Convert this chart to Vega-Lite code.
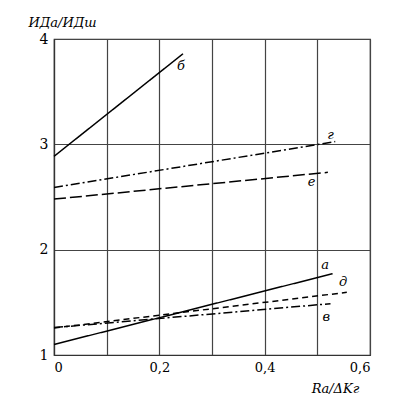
{
  "$schema": "https://vega.github.io/schema/vega-lite/v6.json",
  "width": 316,
  "height": 316,
  "autosize": "none",
  "padding": {"left": 54, "top": 39, "right": 36, "bottom": 41},
  "background": "white",
  "config": {
    "view": {"stroke": "#333", "strokeWidth": 1.2},
    "font": "DejaVu Serif"
  },
  "datasets": {
    "lines": [
      {"series": "а", "x": 0, "y": 1.10},
      {"series": "а", "x": 0.529, "y": 1.772},
      {"series": "б", "x": 0, "y": 2.886},
      {"series": "б", "x": 0.245, "y": 3.86},
      {"series": "в", "x": 0, "y": 1.26},
      {"series": "в", "x": 0.525, "y": 1.487},
      {"series": "г", "x": 0, "y": 2.59},
      {"series": "г", "x": 0.534, "y": 3.026},
      {"series": "д", "x": 0, "y": 1.256},
      {"series": "д", "x": 0.556, "y": 1.595},
      {"series": "е", "x": 0, "y": 2.48},
      {"series": "е", "x": 0.52, "y": 2.734}
    ],
    "labels": [
      {"label": "а", "x": 0.515, "y": 1.85},
      {"label": "б", "x": 0.241, "y": 3.74},
      {"label": "в", "x": 0.517, "y": 1.36},
      {"label": "г", "x": 0.525, "y": 3.09},
      {"label": "д", "x": 0.549, "y": 1.69},
      {"label": "е", "x": 0.489, "y": 2.64}
    ]
  },
  "layer": [
    {
      "data": {"name": "lines"},
      "mark": {"type": "line", "color": "black", "strokeWidth": 1.5},
      "encoding": {
        "x": {
          "field": "x", "type": "quantitative",
          "scale": {"domain": [0, 0.6], "nice": false, "zero": false},
          "axis": {
            "values": [0, 0.1, 0.2, 0.3, 0.4, 0.5, 0.6],
            "labelExpr": "round(datum.value*10) % 2 == 1 ? '' : (datum.value == 0 ? '0' : replace(format(datum.value, '.1f'), '.', ','))",
            "grid": true, "gridColor": "#444", "gridOpacity": 1, "gridWidth": 1.2,
            "domainColor": "#333", "domainWidth": 1.2,
            "ticks": false, "labelPadding": 6,
            "labelFont": "DejaVu Serif", "labelFontSize": 13, "labelColor": "black",
            "title": "Rа/ΔKг", "titleFont": "DejaVu Serif", "titleFontStyle": "italic",
            "titleFontWeight": "normal", "titleFontSize": 13, "titleColor": "black",
            "titleX": 281, "titleY": 33, "titleAlign": "center", "titleBaseline": "middle"
          }
        },
        "y": {
          "field": "y", "type": "quantitative",
          "scale": {"domain": [1, 4], "nice": false, "zero": false},
          "axis": {
            "values": [1, 2, 3, 4],
            "format": "d",
            "grid": true, "gridColor": "#444", "gridOpacity": 1, "gridWidth": 1.2,
            "domainColor": "#333", "domainWidth": 1.2,
            "ticks": false, "labelPadding": 6,
            "labelFont": "DejaVu Serif", "labelFontSize": 14, "labelColor": "black",
            "title": "ИДа/ИДш", "titleFont": "DejaVu Serif", "titleFontStyle": "italic",
            "titleFontWeight": "normal", "titleFontSize": 13, "titleColor": "black",
            "titleAngle": 0, "titleX": 8, "titleY": -17, "titleAlign": "center", "titleBaseline": "middle"
          }
        },
        "detail": {"field": "series"},
        "strokeDash": {
          "field": "series", "type": "nominal",
          "scale": {
            "domain": ["а", "б", "в", "г", "д", "е"],
            "range": [[1, 0], [1, 0], [9, 3, 2, 3], [9, 3, 2, 3], [6, 4], [12, 4]]
          },
          "legend": null
        }
      }
    },
    {
      "data": {"name": "labels"},
      "mark": {"type": "text", "font": "DejaVu Serif", "fontStyle": "italic", "fontSize": 13, "color": "black", "align": "center", "baseline": "middle"},
      "encoding": {
        "x": {"field": "x", "type": "quantitative"},
        "y": {"field": "y", "type": "quantitative"},
        "text": {"field": "label"}
      }
    }
  ]
}
